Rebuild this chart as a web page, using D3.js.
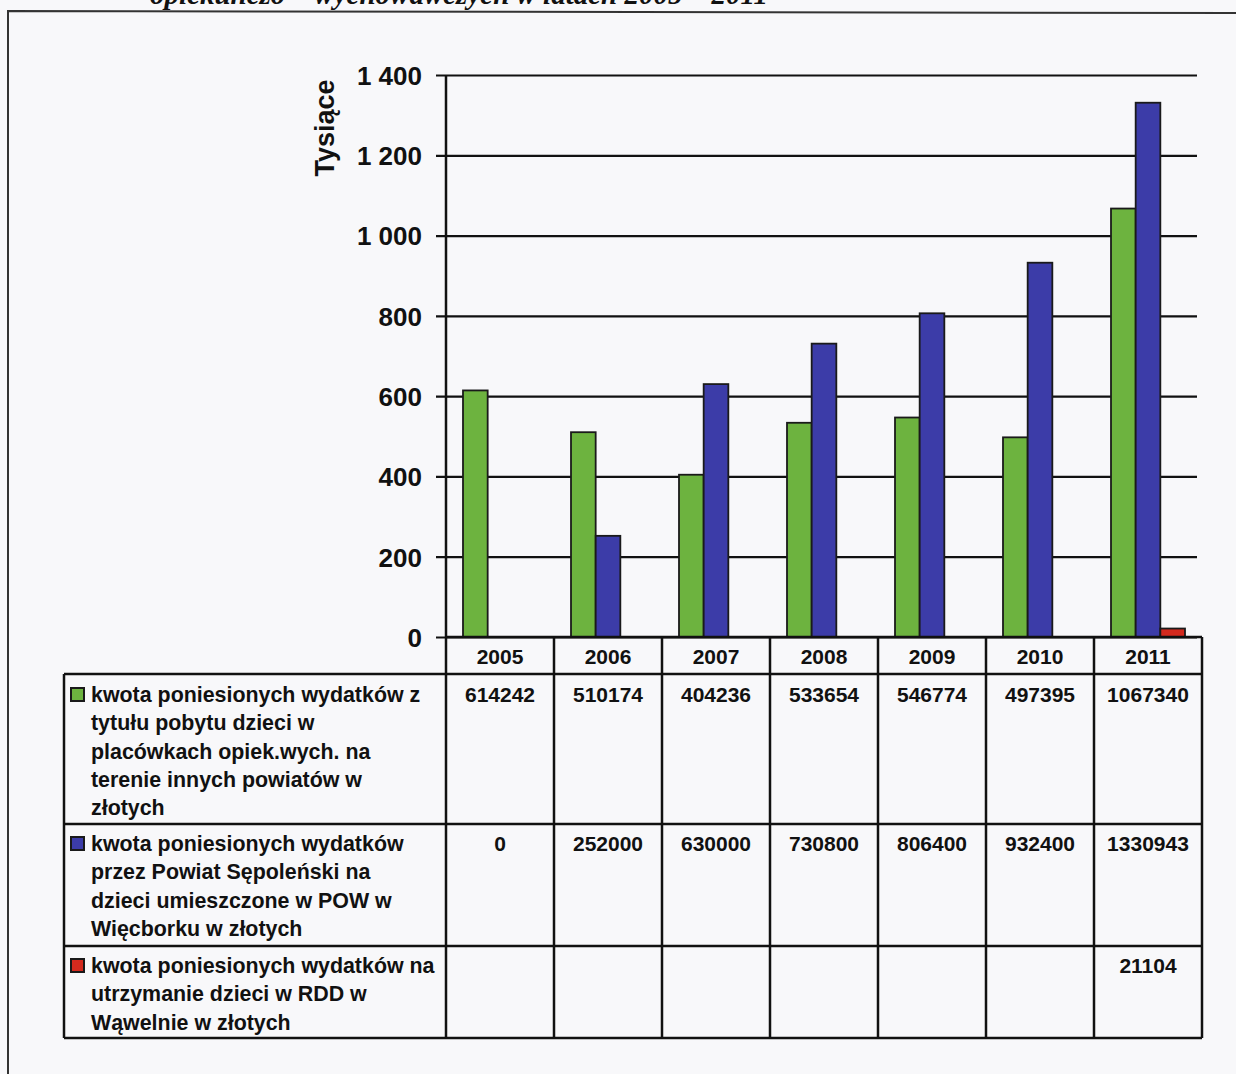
<!DOCTYPE html>
<html>
<head>
<meta charset="utf-8">
<script src="https://cdn.jsdelivr.net/npm/d3@7/dist/d3.min.js"></script>
<style>
  html, body { margin: 0; padding: 0; background: #f8f8fa; }
  svg { display: block; }
</style>
</head>
<body>
<script>
// ---------- data ----------
const years = ["2005", "2006", "2007", "2008", "2009", "2010", "2011"];
const seriesKeys = ["inne", "pow", "rdd"];
const seriesColors = ["#6db33f", "#3c3ca8", "#d42a1e"];
const greenValues = [614242, 510174, 404236, 533654, 546774, 497395, 1067340];
const blueValues  = [0, 252000, 630000, 730800, 806400, 932400, 1330943];
const redValues   = [null, null, null, null, null, null, 21104];
const seriesLabelLines = [
  ["kwota poniesionych wydatków z", "tytułu pobytu dzieci w", "placówkach opiek.wych. na", "terenie innych powiatów w", "złotych"],
  ["kwota poniesionych wydatków", "przez Powiat Sępoleński na", "dzieci umieszczone w POW w", "Więcborku w złotych"],
  ["kwota poniesionych wydatków na", "utrzymanie dzieci w RDD w", "Wąwelnie w złotych"]
];
const yTickValues = [0, 200000, 400000, 600000, 800000, 1000000, 1200000, 1400000];
const yTickLabels = ["0", "200", "400", "600", "800", "1 000", "1 200", "1 400"];
const yAxisTitle = "Tysiące";
const headerText = "opiekuńczo – wychowawczych w latach 2005 – 2011";

const seriesValues = [greenValues, blueValues, redValues];

// ---------- layout ----------
const W = 1236, H = 1074;
const axisX = 446, plotRight = 1197, tableRight = 1202, tableLeft = 64;
const yTop = 75, yZero = 637;
const rowBounds = [674, 824, 946, 1038];
const FONT = "'Liberation Sans', Arial, Helvetica, sans-serif";

const svg = d3.select("body").append("svg").attr("width", W).attr("height", H);

// page frame and cut-off heading (cut off at the page top, as in the scan)
svg.append("text")
  .attr("x", 150).attr("y", 4)
  .attr("font-family", "'Liberation Serif', 'Times New Roman', serif")
  .attr("font-style", "italic").attr("font-weight", "bold")
  .attr("font-size", 29).attr("fill", "#111")
  .text(headerText);
svg.append("path")
  .attr("d", `M8,1074 L8,11 L1236,13`)
  .attr("fill", "none").attr("stroke", "#333").attr("stroke-width", 2);

// ---------- scales ----------
const y = d3.scaleLinear().domain([0, 1400000]).range([yZero, yTop]);
const x0 = d3.scaleBand().domain(years).range([axisX, tableRight]).padding(0);
const x1 = d3.scaleBand().domain(seriesKeys).range([17, 91]).padding(0);

// ---------- gridlines + ticks (via axis) ----------
const yAxis = d3.axisLeft(y)
  .tickValues(yTickValues)
  .tickFormat((d, i) => yTickLabels[i])
  .tickSize(-(plotRight - 436))
  .tickPadding(14);
const gAxis = svg.append("g").attr("transform", "translate(436,0)").call(yAxis);
gAxis.select(".domain").remove();
gAxis.selectAll(".tick line").attr("stroke", "#111").attr("stroke-width", 2.2);
gAxis.selectAll(".tick text")
  .attr("font-family", FONT).attr("font-weight", "bold")
  .attr("font-size", 26).attr("fill", "#111")
  .attr("dy", "0.36em");

// y-axis title
svg.append("text")
  .attr("transform", `translate(334,128) rotate(-90)`)
  .attr("text-anchor", "middle")
  .attr("font-family", FONT).attr("font-weight", "bold")
  .attr("font-size", 27).attr("fill", "#111")
  .text(yAxisTitle);

// ---------- bars ----------
const barData = [];
years.forEach((yr, i) => {
  seriesKeys.forEach((k, s) => {
    const v = seriesValues[s][i];
    if (v != null && v > 0) barData.push({ yr, k, s, v });
  });
});
svg.append("g").selectAll("rect").data(barData).join("rect")
  .attr("x", d => x0(d.yr) + x1(d.k))
  .attr("width", x1.bandwidth())
  .attr("y", d => y(d.v))
  .attr("height", d => yZero - y(d.v))
  .attr("fill", d => seriesColors[d.s])
  .attr("stroke", "#1a1a1a").attr("stroke-width", 1.8);

// ---------- table ----------
const tg = svg.append("g").attr("stroke", "#111").attr("stroke-width", 2.5).attr("fill", "none");
tg.append("line").attr("x1", axisX).attr("x2", tableRight).attr("y1", yZero).attr("y2", yZero);
rowBounds.forEach(rb => {
  tg.append("line").attr("x1", tableLeft).attr("x2", tableRight).attr("y1", rb).attr("y2", rb);
});
tg.append("line").attr("x1", tableLeft).attr("x2", tableLeft).attr("y1", rowBounds[0]).attr("y2", rowBounds[3]);
tg.append("line").attr("x1", axisX).attr("x2", axisX).attr("y1", yTop).attr("y2", rowBounds[3]);
years.forEach(yr => {
  const xr = x0(yr) + x0.bandwidth();
  tg.append("line").attr("x1", xr).attr("x2", xr).attr("y1", yZero).attr("y2", rowBounds[3]);
});

const txt = svg.append("g").attr("font-family", FONT).attr("font-weight", "bold").attr("fill", "#111");
txt.selectAll("text.yr").data(years).join("text").attr("class", "yr")
  .attr("x", d => x0(d) + x0.bandwidth() / 2)
  .attr("y", 664)
  .attr("text-anchor", "middle").attr("font-size", 21)
  .text(d => d);

const valueBaselines = [702, 851, 973];
seriesValues.forEach((vals, s) => {
  txt.append("g").selectAll("text").data(vals.map((v, i) => ({ v, yr: years[i] })).filter(d => d.v != null))
    .join("text")
    .attr("x", d => x0(d.yr) + x0.bandwidth() / 2)
    .attr("y", valueBaselines[s])
    .attr("text-anchor", "middle").attr("font-size", 21)
    .text(d => String(d.v));
});

const lineH = 28.3;
seriesLabelLines.forEach((lines, s) => {
  const base = valueBaselines[s];
  svg.append("rect")
    .attr("x", 71).attr("y", base - 14).attr("width", 13).attr("height", 13)
    .attr("fill", seriesColors[s]).attr("stroke", "#1a1a1a").attr("stroke-width", 2);
  lines.forEach((ln, j) => {
    txt.append("text")
      .attr("x", 91).attr("y", base + j * lineH)
      .attr("font-size", 21.4)
      .text(ln);
  });
});
</script>
</body>
</html>
